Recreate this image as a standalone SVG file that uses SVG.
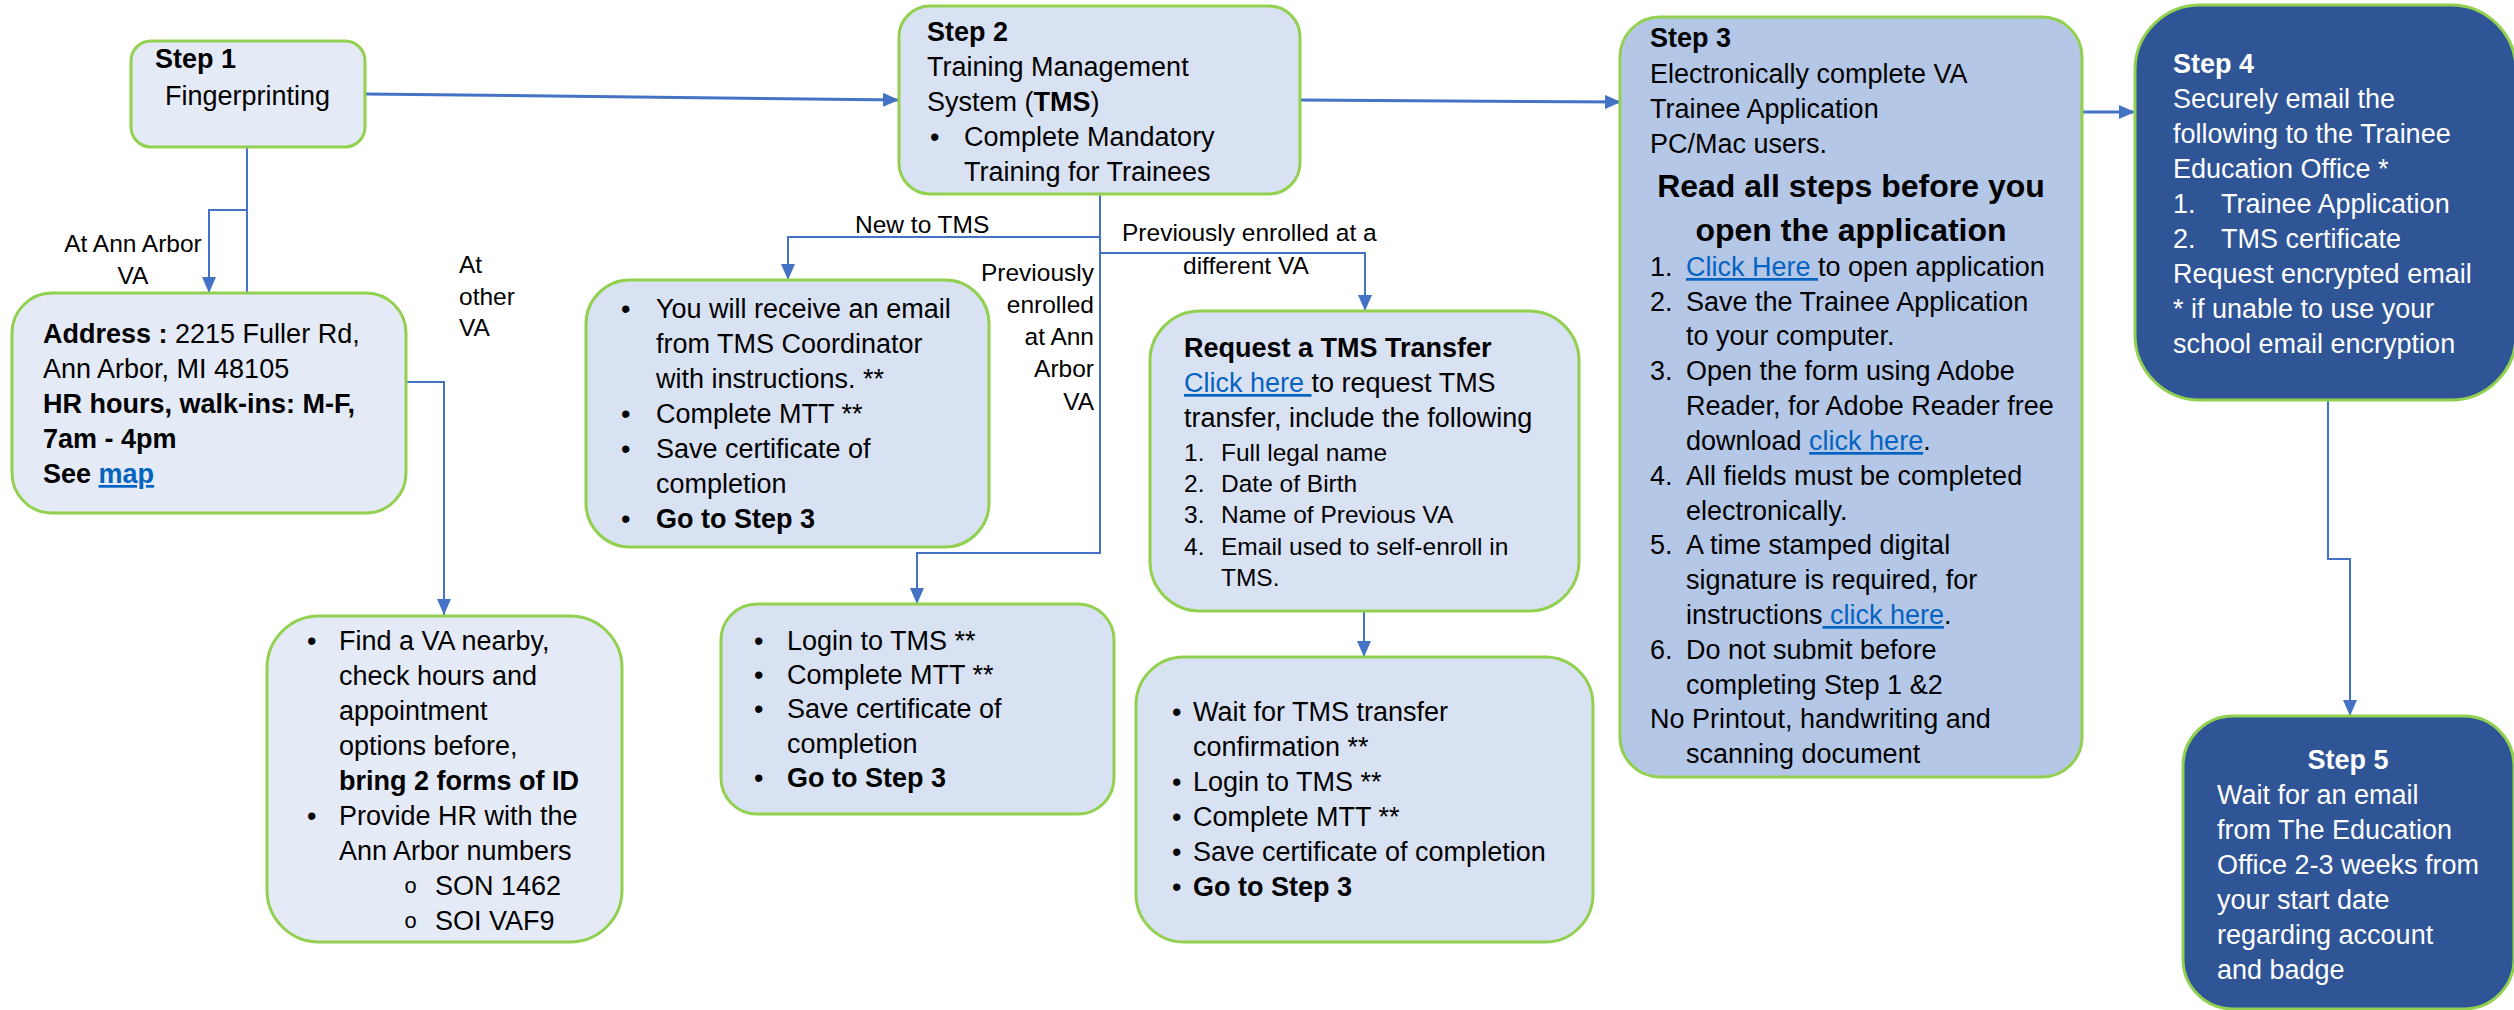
<svg xmlns="http://www.w3.org/2000/svg" width="2514" height="1010" viewBox="0 0 2514 1010">
<style>
.node rect{stroke:#92D050;stroke-width:3}
.l1{fill:#E4EAF6}
.l2{fill:#D9E2F3}
.l3{fill:#B4C7E7}
.dk{fill:#2F5597}
text{font-family:"Liberation Sans",Arial,sans-serif;font-size:27px;fill:#000}
.b{font-weight:bold}
.w{fill:#fff}
.lnk{fill:#0563C1;text-decoration:underline}
.lbl{font-size:24.5px}
.sm{font-size:24.5px}
.hd{font-size:32px;font-weight:bold}
.mono{font-family:"Liberation Mono",monospace;font-size:22px}
.conn{fill:none;stroke:#4472C4;stroke-width:2}
.thick{stroke-width:3}
</style>
<defs>
<marker id="ah" markerUnits="userSpaceOnUse" markerWidth="16" markerHeight="14" refX="16" refY="7" orient="auto"><path d="M0,0 L16,7 L0,14 z" fill="#4472C4"/></marker>
</defs>
<rect width="2514" height="1010" fill="#fff"/>
<g id="connectors">
<path class="conn thick" d="M366,94 L899,100" marker-end="url(#ah)"/>
<path class="conn" d="M247,147 V210 H209 V293" marker-end="url(#ah)"/>
<path class="conn" d="M247,147 V382 H444 V615" marker-end="url(#ah)"/>
<path class="conn" d="M1100,194 V237 H788 V280" marker-end="url(#ah)"/>
<path class="conn" d="M1100,194 V553 H917 V604" marker-end="url(#ah)"/>
<path class="conn" d="M1100,253 H1365 V311" marker-end="url(#ah)"/>
<path class="conn" d="M1364,611 V657" marker-end="url(#ah)"/>
<path class="conn thick" d="M1300,100 L1621,102" marker-end="url(#ah)"/>
<path class="conn thick" d="M2082,112 H2135" marker-end="url(#ah)"/>
<path class="conn" d="M2328,400 V559 H2350 V716" marker-end="url(#ah)"/>
</g>
<g id="labels">
<text class="lbl" x="133" y="252" text-anchor="middle">At Ann Arbor</text>
<text class="lbl" x="133" y="284" text-anchor="middle">VA</text>
<text class="lbl" x="459" y="273">At</text>
<text class="lbl" x="459" y="305">other</text>
<text class="lbl" x="459" y="336">VA</text>
<text class="lbl" x="855" y="233">New to TMS</text>
<text class="lbl" x="1122" y="241">Previously enrolled at a</text>
<text class="lbl" x="1183" y="274">different VA</text>
<text class="lbl" x="1094" y="281" text-anchor="end">Previously</text>
<text class="lbl" x="1094" y="313" text-anchor="end">enrolled</text>
<text class="lbl" x="1094" y="345" text-anchor="end">at Ann</text>
<text class="lbl" x="1094" y="377" text-anchor="end">Arbor</text>
<text class="lbl" x="1094" y="410" text-anchor="end">VA</text>
</g>
<g id="step1" class="node">
<rect class="l1" x="131" y="41" width="234" height="106" rx="20"/>
<text x="155" y="68" class="b">Step 1</text>
<text x="165" y="105">Fingerprinting</text>
</g>
<g id="address" class="node">
<rect class="l1" x="12" y="293" width="394" height="220" rx="40"/>
<text x="43" y="343"><tspan class="b">Address :</tspan> 2215 Fuller Rd,</text>
<text x="43" y="378">Ann Arbor, MI 48105</text>
<text x="43" y="413" class="b">HR hours, walk-ins: M-F,</text>
<text x="43" y="448" class="b">7am - 4pm</text>
<text x="43" y="483" class="b">See <tspan class="lnk">map</tspan></text>
</g>
<g id="findva" class="node">
<rect class="l1" x="267" y="616" width="355" height="326" rx="52"/>
<text x="307" y="650">•</text>
<text x="339" y="650">Find a VA nearby,</text>
<text x="339" y="685">check hours and</text>
<text x="339" y="720">appointment</text>
<text x="339" y="755">options before,</text>
<text x="339" y="790" class="b">bring 2 forms of ID</text>
<text x="307" y="825">•</text>
<text x="339" y="825">Provide HR with the</text>
<text x="339" y="860">Ann Arbor numbers</text>
<text x="404" y="893" class="mono">o</text>
<text x="435" y="895">SON 1462</text>
<text x="404" y="928" class="mono">o</text>
<text x="435" y="930">SOI VAF9</text>
</g>
<g id="step2" class="node">
<rect class="l2" x="899" y="6" width="401" height="188" rx="31"/>
<text x="927" y="41" class="b">Step 2</text>
<text x="927" y="76">Training Management</text>
<text x="927" y="111">System (<tspan class="b">TMS</tspan>)</text>
<text x="930" y="146">•</text>
<text x="964" y="146">Complete Mandatory</text>
<text x="964" y="181">Training for Trainees</text>
</g>
<g id="newtms" class="node">
<rect class="l2" x="586" y="280" width="403" height="267" rx="44"/>
<text x="621" y="318">•</text>
<text x="656" y="318">You will receive an email</text>
<text x="656" y="353">from TMS Coordinator</text>
<text x="656" y="388">with instructions. **</text>
<text x="621" y="423">•</text>
<text x="656" y="423">Complete MTT **</text>
<text x="621" y="458">•</text>
<text x="656" y="458">Save certificate of</text>
<text x="656" y="493">completion</text>
<text x="621" y="528">•</text>
<text x="656" y="528" class="b">Go to Step 3</text>
</g>
<g id="login" class="node">
<rect class="l2" x="721" y="604" width="393" height="210" rx="36"/>
<text x="754" y="650">•</text>
<text x="787" y="650">Login to TMS **</text>
<text x="754" y="684">•</text>
<text x="787" y="684">Complete MTT **</text>
<text x="754" y="718">•</text>
<text x="787" y="718">Save certificate of</text>
<text x="787" y="753">completion</text>
<text x="754" y="787">•</text>
<text x="787" y="787" class="b">Go to Step 3</text>
</g>
<g id="transfer" class="node">
<rect class="l2" x="1150" y="311" width="429" height="300" rx="50"/>
<text x="1184" y="357" class="b">Request a TMS Transfer</text>
<text x="1184" y="392"><tspan class="lnk">Click here </tspan>to request TMS</text>
<text x="1184" y="427">transfer, include the following</text>
<text x="1184" y="461" class="sm">1.</text>
<text x="1221" y="461" class="sm">Full legal name</text>
<text x="1184" y="492" class="sm">2.</text>
<text x="1221" y="492" class="sm">Date of Birth</text>
<text x="1184" y="523" class="sm">3.</text>
<text x="1221" y="523" class="sm">Name of Previous VA</text>
<text x="1184" y="555" class="sm">4.</text>
<text x="1221" y="555" class="sm">Email used to self-enroll in</text>
<text x="1221" y="586" class="sm">TMS.</text>
</g>
<g id="wait" class="node">
<rect class="l2" x="1136" y="657" width="457" height="285" rx="48"/>
<text x="1172" y="721">•</text>
<text x="1193" y="721">Wait for TMS transfer</text>
<text x="1193" y="756">confirmation **</text>
<text x="1172" y="791">•</text>
<text x="1193" y="791">Login to TMS **</text>
<text x="1172" y="826">•</text>
<text x="1193" y="826">Complete MTT **</text>
<text x="1172" y="861">•</text>
<text x="1193" y="861">Save certificate of completion</text>
<text x="1172" y="896">•</text>
<text x="1193" y="896" class="b">Go to Step 3</text>
</g>
<g id="step3" class="node">
<rect class="l3" x="1620" y="17" width="462" height="760" rx="40"/>
<text x="1650" y="47" class="b">Step 3</text>
<text x="1650" y="83">Electronically complete VA</text>
<text x="1650" y="118">Trainee Application</text>
<text x="1650" y="153">PC/Mac users.</text>
<text x="1851" y="197" class="hd" text-anchor="middle">Read all steps before you</text>
<text x="1851" y="241" class="hd" text-anchor="middle">open the application</text>
<text x="1650" y="276">1.</text>
<text x="1686" y="276"><tspan class="lnk">Click Here </tspan>to open application</text>
<text x="1650" y="311">2.</text>
<text x="1686" y="311">Save the Trainee Application</text>
<text x="1686" y="345">to your computer.</text>
<text x="1650" y="380">3.</text>
<text x="1686" y="380">Open the form using Adobe</text>
<text x="1686" y="415">Reader, for Adobe Reader free</text>
<text x="1686" y="450">download  <tspan class="lnk">click here</tspan>.</text>
<text x="1650" y="485">4.</text>
<text x="1686" y="485">All fields must be completed</text>
<text x="1686" y="520">electronically.</text>
<text x="1650" y="554">5.</text>
<text x="1686" y="554">A time stamped digital</text>
<text x="1686" y="589">signature is required, for</text>
<text x="1686" y="624">instructions<tspan class="lnk"> click here</tspan>.</text>
<text x="1650" y="659">6.</text>
<text x="1686" y="659">Do not submit before</text>
<text x="1686" y="694">completing Step 1 &amp;2</text>
<text x="1650" y="728">No Printout, handwriting and</text>
<text x="1686" y="763">scanning document</text>
</g>
<g id="step4" class="node">
<rect class="dk" x="2135" y="5" width="381" height="395" rx="65"/>
<text x="2173" y="73" class="b w">Step 4</text>
<text x="2173" y="108" class="w">Securely email the</text>
<text x="2173" y="143" class="w">following to the Trainee</text>
<text x="2173" y="178" class="w">Education Office *</text>
<text x="2173" y="213" class="w">1.</text>
<text x="2221" y="213" class="w">Trainee Application</text>
<text x="2173" y="248" class="w">2.</text>
<text x="2221" y="248" class="w">TMS certificate</text>
<text x="2173" y="283" class="w">Request encrypted email</text>
<text x="2173" y="318" class="w">* if unable to use your</text>
<text x="2173" y="353" class="w">school email encryption</text>
</g>
<g id="step5" class="node">
<rect class="dk" x="2183" y="716" width="331" height="293" rx="50"/>
<text x="2348" y="769" class="b w" text-anchor="middle">Step 5</text>
<text x="2217" y="804" class="w">Wait for an email</text>
<text x="2217" y="839" class="w">from The Education</text>
<text x="2217" y="874" class="w">Office 2-3 weeks from</text>
<text x="2217" y="909" class="w">your start date</text>
<text x="2217" y="944" class="w">regarding account</text>
<text x="2217" y="979" class="w">and badge</text>
</g>
</svg>
